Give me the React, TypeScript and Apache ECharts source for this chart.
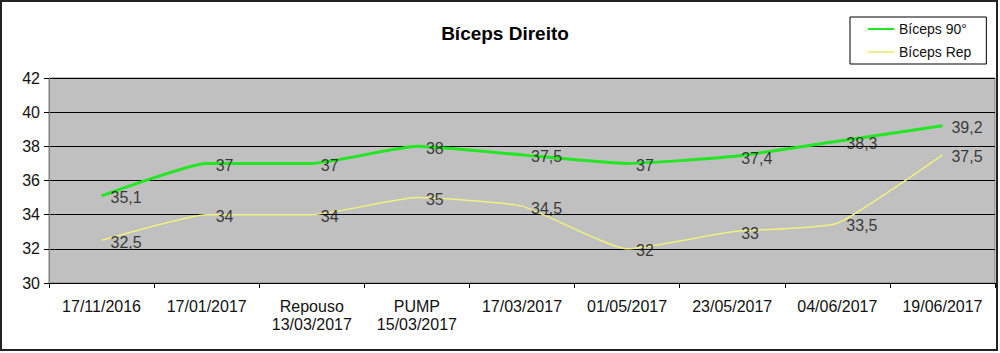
import React, { useEffect, useRef } from "react";
import * as echarts from "echarts";

const categories = [
  "17/11/2016",
  "17/01/2017",
  "Repouso\n13/03/2017",
  "PUMP\n15/03/2017",
  "17/03/2017",
  "01/05/2017",
  "23/05/2017",
  "04/06/2017",
  "19/06/2017",
];
const biceps90 = [35.1, 37, 37, 38, 37.5, 37, 37.4, 38.3, 39.2];
const bicepsRep = [32.5, 34, 34, 35, 34.5, 32, 33, 33.5, 37.5];
const yMin = 30;
const yMax = 42;
const yStep = 2;

const FONT = "'Liberation Sans', Arial, sans-serif";

export default function App() {
  const ref = useRef<HTMLDivElement>(null);
  useEffect(() => {
    if (!ref.current) return;
    const chart = echarts.init(ref.current, undefined, { renderer: "svg" });
    const fmt = (p: any) => String(p.value).replace(".", ",");
    const labelCfg = {
      show: true,
      position: "right",
      distance: 9,
      offset: [0, 2],
      formatter: fmt,
      color: "#111",
      fontSize: 16,
      fontFamily: FONT,
    };
    chart.setOption({
      animation: false,
      backgroundColor: "#ffffff",
      textStyle: { fontFamily: FONT },
      title: {
        text: "Bíceps Direito",
        left: 500,
        top: 19,
        textAlign: "center",
        textStyle: { fontSize: 19, fontWeight: "bold", color: "#000", fontFamily: FONT },
      },
      legend: {
        orient: "vertical",
        left: 850,
        top: 17,
        padding: [5, 15, 5, 17],
        itemWidth: 26,
        itemHeight: 14,
        itemGap: 9,
        backgroundColor: "#ffffff",
        borderColor: "#000",
        borderWidth: 1,
        borderRadius: 0,
        itemStyle: { opacity: 0 },
        textStyle: { fontSize: 14, color: "#111", fontFamily: FONT },
        data: ["Bíceps 90°", "Bíceps Rep"],
      },
      grid: {
        left: 49,
        right: 5,
        top: 78,
        bottom: 70,
        show: true,
        backgroundColor: "#c0c0c0",
        borderColor: "#808080",
        borderWidth: 1,
      },
      xAxis: {
        type: "category",
        data: categories,
        boundaryGap: true,
        axisLine: { show: true, lineStyle: { color: "#000", width: 1 } },
        axisTick: { show: true, length: 5, inside: false, lineStyle: { color: "#000" } },
        axisLabel: {
          interval: 0,
          margin: 14,
          fontSize: 16,
          lineHeight: 18,
          color: "#111",
          fontFamily: FONT,
        },
        splitLine: { show: false },
      },
      yAxis: {
        type: "value",
        min: yMin,
        max: yMax,
        interval: yStep,
        axisLine: { show: true, lineStyle: { color: "#808080", width: 1 } },
        axisTick: { show: true, length: 5, lineStyle: { color: "#000" } },
        axisLabel: { margin: 9, fontSize: 16, color: "#111", fontFamily: FONT },
        splitLine: { show: true, lineStyle: { color: "#000", width: 1 } },
      },
      series: [
        {
          name: "Bíceps 90°",
          type: "line",
          data: biceps90,
          smooth: 0.15,
          symbol: "none",
          lineStyle: { color: "#22e622", width: 3 },
          itemStyle: { color: "#22e622" },
          z: 3,
        },
        {
          name: "Bíceps Rep",
          type: "line",
          data: bicepsRep,
          smooth: 0.15,
          symbol: "none",
          lineStyle: { color: "#f0f080", width: 1.5 },
          itemStyle: { color: "#f0f080" },
          z: 2,
        },
        {
          name: "lbl90",
          type: "scatter",
          data: biceps90,
          symbolSize: 0,
          silent: true,
          itemStyle: { color: "transparent" },
          label: labelCfg,
          z: 4,
        },
        {
          name: "lblRep",
          type: "scatter",
          data: bicepsRep,
          symbolSize: 0,
          silent: true,
          itemStyle: { color: "transparent" },
          label: labelCfg,
          z: 4,
        },
      ],
      graphic: [
        {
          type: "rect",
          shape: { x: 1, y: 1, width: 996, height: 349 },
          style: { fill: "none", stroke: "#222", lineWidth: 2 },
          silent: true,
          z: 100,
        },
      ],
    });
    return () => chart.dispose();
  }, []);
  return (
    <div
      ref={ref}
      style={{ position: "fixed", left: 0, top: 0, width: 1000, height: 353 }}
    />
  );
}
